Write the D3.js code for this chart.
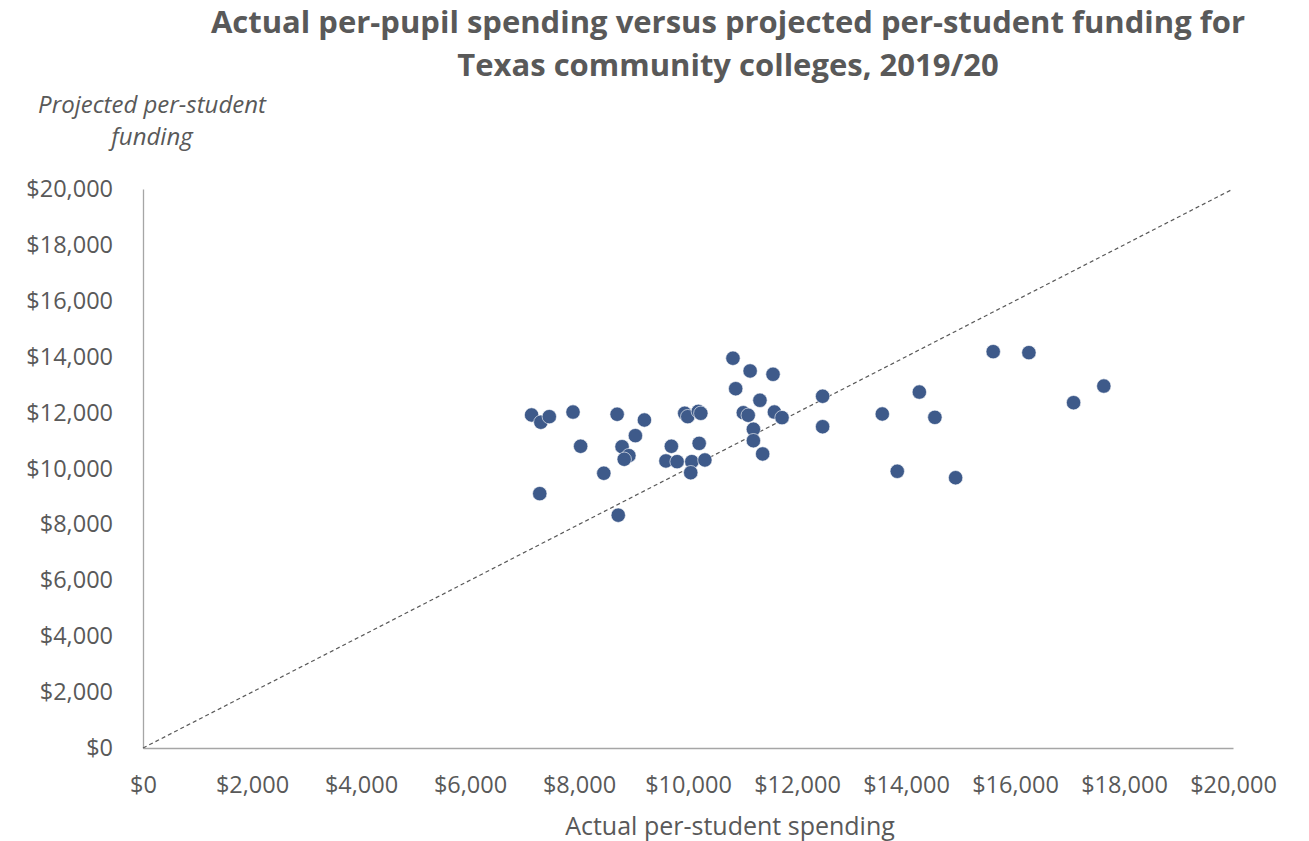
<!DOCTYPE html>
<html>
<head>
<meta charset="utf-8">
<script src="https://cdn.jsdelivr.net/npm/d3@7"></script>
<style>
  html, body { margin: 0; padding: 0; background: #fff; }
  svg { display: block; }
</style>
</head>
<body>
<svg id="chart" width="1309" height="841"></svg>
<script>
// Per-college values: actual spending (x) and projected funding (y), in dollars
const actualSpending = [
  7130, 7300, 7455, 7890, 8700, 9200, 9035, 8030, 8790, 8915,
  8830, 8455, 7280, 8720, 9940, 9995, 10190, 10235, 9695, 10205,
  9595, 9800, 10070, 10310, 10050, 10825, 11140, 11560, 10875, 11320,
  12470, 11015, 11105, 11585, 11725, 11200, 11200, 12470, 11370, 13565,
  14245, 14530, 13840, 14910, 15600, 16255, 17075, 17630
];
const projectedFunding = [
  11915, 11655, 11855, 12020, 11940, 11735, 11175, 10795, 10780, 10460,
  10330, 9830, 9100, 8330, 11975, 11855, 12045, 11975, 10795, 10900,
  10270, 10245, 10245, 10305, 9850, 13945, 13490, 13370, 12855, 12440,
  12585, 11995, 11905, 12020, 11820, 11405, 10995, 11495, 10520, 11950,
  12735, 11830, 9900, 9670, 14180, 14145, 12355, 12950
];
const tickValues = [0, 2000, 4000, 6000, 8000, 10000, 12000, 14000, 16000, 18000, 20000];

const titleLines = [
  "Actual per-pupil spending versus projected per-student funding for",
  "Texas community colleges, 2019/20"
];
const yTitleLines = ["Projected per-student", "funding"];
const xTitle = "Actual per-student spending";

const points = actualSpending.map((v, i) => ({ x: v, y: projectedFunding[i] }));

const svg = d3.select("#chart");
const font = "'Open Sans', 'DejaVu Sans', sans-serif";
const textColor = "#595959";

const plot = { left: 143, right: 1233, top: 189, bottom: 748 };

const x = d3.scaleLinear().domain([0, 20000]).range([plot.left, plot.right]);
const y = d3.scaleLinear().domain([0, 20000]).range([plot.bottom, plot.top]);
const fmt = v => "$" + d3.format(",")(v);

// Title
svg.append("g").selectAll("text")
  .data(titleLines)
  .join("text")
  .attr("x", 728)
  .attr("y", (d, i) => 33 + i * 43)
  .attr("text-anchor", "middle")
  .attr("font-family", font)
  .attr("font-weight", "bold")
  .attr("font-size", 31)
  .attr("fill", textColor)
  .text(d => d);

// Y axis title (italic, above the axis)
svg.append("g").selectAll("text")
  .data(yTitleLines)
  .join("text")
  .attr("x", 152)
  .attr("y", (d, i) => 113 + i * 32)
  .attr("text-anchor", "middle")
  .attr("font-family", font)
  .attr("font-style", "italic")
  .attr("font-size", 24)
  .attr("fill", textColor)
  .text(d => d);

// X axis title
svg.append("text")
  .attr("x", 730)
  .attr("y", 835)
  .attr("text-anchor", "middle")
  .attr("font-family", font)
  .attr("font-size", 25)
  .attr("fill", textColor)
  .text(xTitle);

// Axes
const xAxis = d3.axisBottom(x).tickValues(tickValues).tickFormat(fmt).tickSize(0).tickPadding(28);
const yAxis = d3.axisLeft(y).tickValues(tickValues).tickFormat(fmt).tickSize(0).tickPadding(30);

const gx = svg.append("g").attr("transform", `translate(0,${plot.bottom})`).call(xAxis);
const gy = svg.append("g").attr("transform", `translate(${plot.left},0)`).call(yAxis);

[gx, gy].forEach(g => {
  g.select(".domain").attr("stroke", "#a6a6a6").attr("stroke-width", 1.3);
  g.selectAll("text")
    .attr("font-family", font)
    .attr("font-size", 23.5)
    .attr("fill", textColor);
});

// Parity line: projected funding equal to actual spending
svg.append("line")
  .attr("x1", x(0)).attr("y1", y(0))
  .attr("x2", x(20000)).attr("y2", y(20000))
  .attr("stroke", "#595959")
  .attr("stroke-width", 1.2)
  .attr("stroke-dasharray", "4,3");

// Colleges
svg.append("g").selectAll("circle")
  .data(points)
  .join("circle")
  .attr("cx", d => x(d.x))
  .attr("cy", d => y(d.y))
  .attr("r", 7.2)
  .attr("fill", "#3e5a8a")
  .attr("stroke", "#ffffff")
  .attr("stroke-width", 0.6);
</script>
</body>
</html>
